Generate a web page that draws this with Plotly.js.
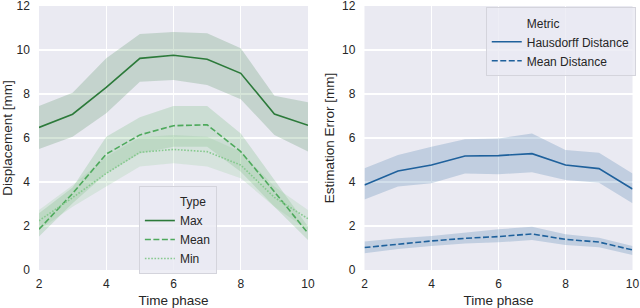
<!DOCTYPE html>
<html><head><meta charset="utf-8">
<script src="https://cdn.plot.ly/plotly-3.0.1.min.js"></script>
<style>html,body{margin:0;padding:0;background:#fff}#chart{width:640px;height:308px}</style>
</head><body><div id="chart"></div>
<script>
const phases = [2, 3, 4, 5, 6, 7, 8, 9, 10];

// Left panel: Displacement [mm]
const maxVal   = [6.48, 7.08, 8.30, 9.62, 9.76, 9.58, 8.94, 7.09, 6.58];
const maxHigh  = [7.45, 8.06, 9.62, 10.73, 10.82, 10.76, 10.08, 7.92, 7.62];
const maxLow   = [5.50, 6.06, 7.12, 8.56, 8.64, 8.41, 7.76, 6.14, 5.38];
const meanVal  = [1.85, 3.48, 5.27, 6.14, 6.56, 6.60, 5.38, 3.56, 1.67];
const meanHigh = [2.58, 3.75, 6.06, 6.94, 7.45, 7.45, 6.21, 4.09, 1.97];
const meanLow  = [1.52, 3.03, 4.39, 5.30, 5.60, 5.60, 4.47, 2.88, 1.36];
const minVal   = [2.24, 3.29, 4.39, 5.35, 5.48, 5.38, 4.77, 3.30, 2.33];
const minHigh  = [2.73, 3.85, 5.15, 6.03, 6.14, 6.06, 5.38, 3.79, 2.73];
const minLow   = [1.82, 2.88, 3.79, 4.70, 4.85, 4.70, 4.17, 2.88, 1.82];

// Right panel: Estimation Error [mm]
const hdVal  = [3.86, 4.50, 4.77, 5.18, 5.20, 5.29, 4.77, 4.61, 3.68];
const hdHigh = [4.62, 5.23, 5.60, 5.94, 5.98, 6.21, 5.45, 5.33, 4.39];
const hdLow  = [3.21, 3.79, 3.94, 4.39, 4.35, 4.44, 4.09, 3.97, 3.03];
const mdVal  = [1.02, 1.18, 1.32, 1.44, 1.52, 1.64, 1.39, 1.27, 0.91];
const mdHigh = [1.29, 1.44, 1.55, 1.71, 1.85, 1.97, 1.62, 1.47, 1.09];
const mdLow  = [0.76, 0.95, 1.09, 1.21, 1.26, 1.36, 1.14, 1.03, 0.68];

const leftTitle = 'Type';
const rightTitle = 'Metric';
const xTitle = 'Time phase';
const yTitleL = 'Displacement [mm]';
const yTitleR = 'Estimation Error [mm]';

const cMax = '#2c7a3a', cMean = '#4ea95c', cMin = '#86c98e';
const cBlue = '#1f619c';

function band(lo, hi, color, xa, ya) {
  return [
    {x: phases, y: lo, xaxis: xa, yaxis: ya, mode: 'lines', line: {width: 0, color: color},
     showlegend: false, hoverinfo: 'skip'},
    {x: phases, y: hi, xaxis: xa, yaxis: ya, mode: 'lines', line: {width: 0, color: color},
     fill: 'tonexty', fillcolor: color, showlegend: false, hoverinfo: 'skip'}
  ];
}
function rgba(hex, a) {
  const r = parseInt(hex.slice(1,3),16), g = parseInt(hex.slice(3,5),16), b = parseInt(hex.slice(5,7),16);
  return `rgba(${r},${g},${b},${a})`;
}
function line(y, name, color, dash, xa, ya, lg) {
  return {x: phases, y: y, xaxis: xa, yaxis: ya, mode: 'lines', name: name,
          line: {color: color, width: 1.6, dash: dash}, legend: lg};
}
function header(name, xa, ya, lg) {
  return {x: [null], y: [null], xaxis: xa, yaxis: ya, mode: 'lines', name: name,
          line: {color: 'rgba(0,0,0,0)', width: 0}, legend: lg};
}

const traces = [
  ...band(maxLow, maxHigh, rgba(cMax, 0.2), 'x', 'y'),
  ...band(meanLow, meanHigh, rgba(cMean, 0.2), 'x', 'y'),
  ...band(minLow, minHigh, rgba(cMin, 0.2), 'x', 'y'),
  header(leftTitle, 'x', 'y', 'legend'),
  line(maxVal, 'Max', cMax, 'solid', 'x', 'y', 'legend'),
  line(meanVal, 'Mean', cMean, '6px,2.5px', 'x', 'y', 'legend'),
  line(minVal, 'Min', cMin, '1.6px,1.6px', 'x', 'y', 'legend'),
  ...band(hdLow, hdHigh, rgba(cBlue, 0.2), 'x2', 'y2'),
  ...band(mdLow, mdHigh, rgba(cBlue, 0.2), 'x2', 'y2'),
  header(rightTitle, 'x2', 'y2', 'legend2'),
  line(hdVal, 'Hausdorff Distance', cBlue, 'solid', 'x2', 'y2', 'legend2'),
  line(mdVal, 'Mean Distance', cBlue, '6px,2.5px', 'x2', 'y2', 'legend2')
];

const font = {family: 'Liberation Sans, Arial, sans-serif', size: 12, color: '#262626'};
const axBase = {
  showgrid: true, gridcolor: '#ffffff', gridwidth: 1.2, zeroline: false, showline: false,
  ticks: '', tickfont: {size: 12, color: '#262626'}, automargin: false, ticklabeloverflow: 'allow'
};

const layout = {
  width: 640, height: 308,
  margin: {l: 0, r: 0, t: 6, b: 38},
  paper_bgcolor: '#ffffff', plot_bgcolor: '#eaeaf2',
  font: font, showlegend: true,
  xaxis: Object.assign({}, axBase, {domain: [0.0609, 0.4813], range: [2, 10], dtick: 2, tick0: 2,
    ticklabelstandoff: 5, title: {text: xTitle, font: {size: 13.5}, standoff: 5}}),
  yaxis: Object.assign({}, axBase, {domain: [0, 1], range: [0, 12], dtick: 2,
    ticklabelstandoff: 8, title: {text: yTitleL, font: {size: 13.5}, standoff: 4}}),
  xaxis2: Object.assign({}, axBase, {domain: [0.5695, 0.9883], range: [2, 10], dtick: 2, tick0: 2, anchor: 'y2',
    ticklabelstandoff: 5, title: {text: xTitle, font: {size: 13.5}, standoff: 5}}),
  yaxis2: Object.assign({}, axBase, {domain: [0, 1], range: [0, 12], dtick: 2, anchor: 'x2',
    ticklabelstandoff: 8, title: {text: yTitleR, font: {size: 13.5}, standoff: 4}}),
  legend: {x: 0.217, y: 0.318, xanchor: 'left', yanchor: 'top', bgcolor: 'rgba(234,234,242,0.8)',
    bordercolor: '#d4d4dc', borderwidth: 1, font: {size: 12, color: '#262626'},
    itemwidth: 30, tracegroupgap: 0, traceorder: 'normal'},
  legend2: {x: 0.759, y: 0.995, xanchor: 'left', yanchor: 'top', bgcolor: 'rgba(234,234,242,0.8)',
    bordercolor: '#d4d4dc', borderwidth: 1, font: {size: 12, color: '#262626'},
    itemwidth: 30, tracegroupgap: 0, traceorder: 'normal'}
};

Plotly.newPlot('chart', traces, layout, {displayModeBar: false, staticPlot: true});
</script></body></html>
